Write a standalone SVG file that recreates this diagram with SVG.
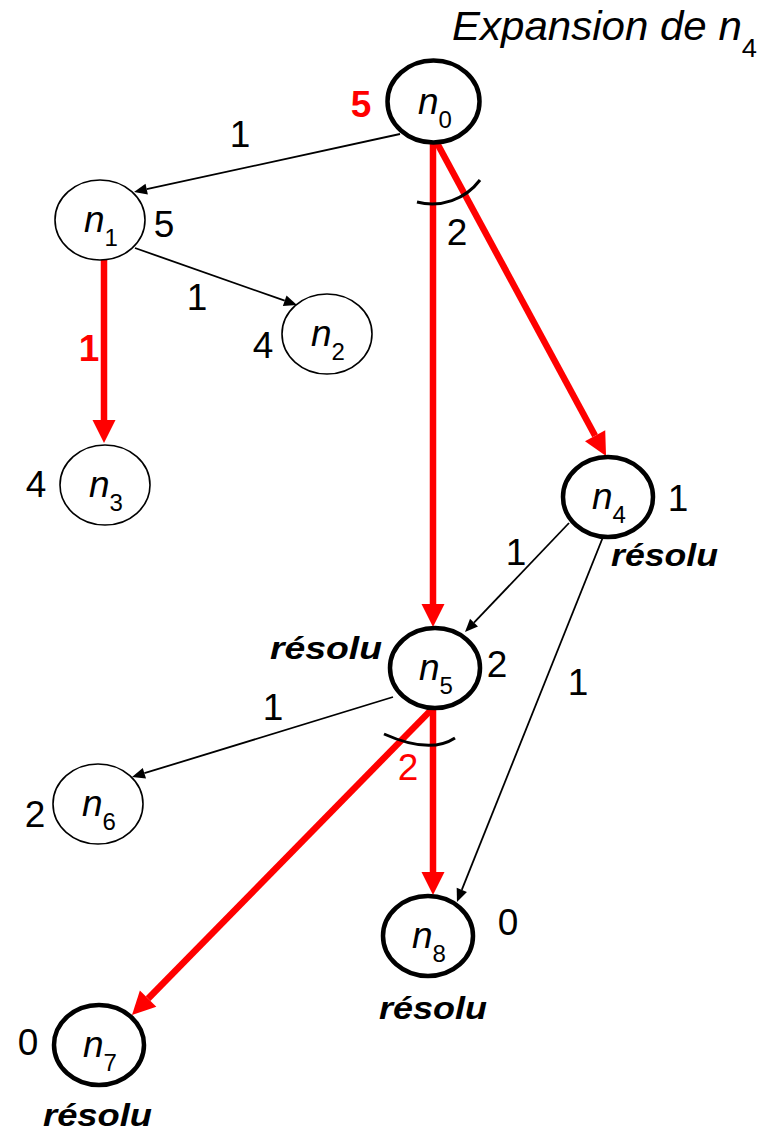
<svg xmlns="http://www.w3.org/2000/svg" width="770" height="1133" viewBox="0 0 770 1133">
<style>
text{font-family:"Liberation Sans",Arial,sans-serif;fill:#000}
.num{font-size:37px;text-anchor:middle}
.lbl{font-size:37px;font-style:italic;text-anchor:middle}
.sub{font-size:24px;font-style:normal}
.res{font-size:31px;font-weight:bold;font-style:italic}
.red{fill:#ff0000}
.thin{fill:#fff;stroke:#000;stroke-width:1.6}
.thick{fill:#fff;stroke:#000;stroke-width:4.5}
.blk{stroke:#000;stroke-width:1.8;fill:none;marker-end:url(#ab)}
.rd{stroke:#ff0000;stroke-width:6.5;fill:none;marker-end:url(#ar)}
.arc{stroke:#000;stroke-width:3;fill:none}
</style>
<defs>
<marker id="ab" markerUnits="userSpaceOnUse" markerWidth="14" markerHeight="12" refX="0" refY="5.5" orient="auto" overflow="visible">
<path d="M0,0 L13,5.5 L0,11 Z" fill="#000"/>
</marker>
<marker id="ar" markerUnits="userSpaceOnUse" markerWidth="24" markerHeight="24" refX="0" refY="11.5" orient="auto" overflow="visible">
<path d="M0,0 L23,11.5 L0,23 Z" fill="#ff0000"/>
</marker>
</defs>
<rect width="770" height="1133" fill="#fff"/>
<text x="452" y="40" style="font-size:40px;font-style:italic" textLength="305" lengthAdjust="spacingAndGlyphs">Expansion de n<tspan style="font-size:26px;font-style:normal" dy="17">4</tspan></text>
<g id="connectors">
<line class="blk" x1="400" y1="134" x2="146.7" y2="189.2"/>
<line class="blk" x1="135" y1="248" x2="284.7" y2="300.7"/>
<line class="blk" x1="569" y1="523" x2="474" y2="622.6"/>
<line class="blk" x1="605" y1="532" x2="461.8" y2="889.9"/>
<line class="blk" x1="393" y1="697" x2="144.4" y2="773.2"/>
<line class="rd" x1="104" y1="260" x2="104" y2="420"/>
<line class="rd" x1="433" y1="143" x2="433" y2="604"/>
<line class="rd" x1="437" y1="143" x2="595.1" y2="435.8"/>
<line class="rd" x1="433" y1="708" x2="433" y2="872"/>
<line class="rd" x1="433" y1="708" x2="148.1" y2="998.6"/>
<path class="arc" d="M417,202 A60,60 0 0 0 480,180"/>
<path class="arc" d="M384,734 Q430,754.5 455,738"/>
<text class="num" x="240" y="147">1</text>
<text class="num" x="197" y="310">1</text>
<text class="num red" x="89" y="361" style="font-weight:bold">1</text>
<text class="num" x="457" y="245">2</text>
<text class="num" x="516" y="565">1</text>
<text class="num" x="578" y="695">1</text>
<text class="num" x="273" y="720">1</text>
<text class="num red" x="408" y="780">2</text>
</g>
<g id="n0">
<ellipse class="thick" cx="433.5" cy="101.5" rx="46" ry="41"/>
<text class="lbl" x="435" y="114">n<tspan class="sub" dy="14">0</tspan></text>
<text class="num red" x="361" y="117" style="font-weight:bold">5</text>
</g>
<g id="n1">
<ellipse class="thin" cx="100" cy="220" rx="45" ry="40"/>
<text class="lbl" x="101" y="232">n<tspan class="sub" dy="14">1</tspan></text>
<text class="num" x="164" y="237">5</text>
</g>
<g id="n2">
<ellipse class="thin" cx="327" cy="334" rx="45" ry="40"/>
<text class="lbl" x="328" y="346">n<tspan class="sub" dy="14">2</tspan></text>
<text class="num" x="263" y="358">4</text>
</g>
<g id="n3">
<ellipse class="thin" cx="105" cy="485" rx="45" ry="40"/>
<text class="lbl" x="106" y="497">n<tspan class="sub" dy="14">3</tspan></text>
<text class="num" x="36" y="497">4</text>
</g>
<g id="n4">
<ellipse class="thick" cx="608" cy="497" rx="45" ry="40"/>
<text class="lbl" x="609" y="509">n<tspan class="sub" dy="14">4</tspan></text>
<text class="num" x="678" y="511">1</text>
<text class="res" x="611" y="566" textLength="107" lengthAdjust="spacingAndGlyphs">résolu</text>
</g>
<g id="n5">
<ellipse class="thick" cx="435" cy="668" rx="45" ry="40"/>
<text class="lbl" x="436" y="680">n<tspan class="sub" dy="14">5</tspan></text>
<text class="num" x="497" y="677">2</text>
<text class="res" x="270" y="659" textLength="112" lengthAdjust="spacingAndGlyphs">résolu</text>
</g>
<g id="n6">
<ellipse class="thin" cx="98" cy="804" rx="45" ry="40"/>
<text class="lbl" x="99" y="816">n<tspan class="sub" dy="14">6</tspan></text>
<text class="num" x="35" y="827">2</text>
</g>
<g id="n7">
<ellipse class="thick" cx="99" cy="1045" rx="45" ry="40"/>
<text class="lbl" x="100" y="1057">n<tspan class="sub" dy="14">7</tspan></text>
<text class="num" x="28" y="1055">0</text>
<text class="res" x="43" y="1126" textLength="109" lengthAdjust="spacingAndGlyphs">résolu</text>
</g>
<g id="n8">
<ellipse class="thick" cx="428" cy="936" rx="45" ry="40"/>
<text class="lbl" x="429" y="948">n<tspan class="sub" dy="14">8</tspan></text>
<text class="num" x="508" y="935">0</text>
<text class="res" x="379" y="1019" textLength="108" lengthAdjust="spacingAndGlyphs">résolu</text>
</g>
</svg>
